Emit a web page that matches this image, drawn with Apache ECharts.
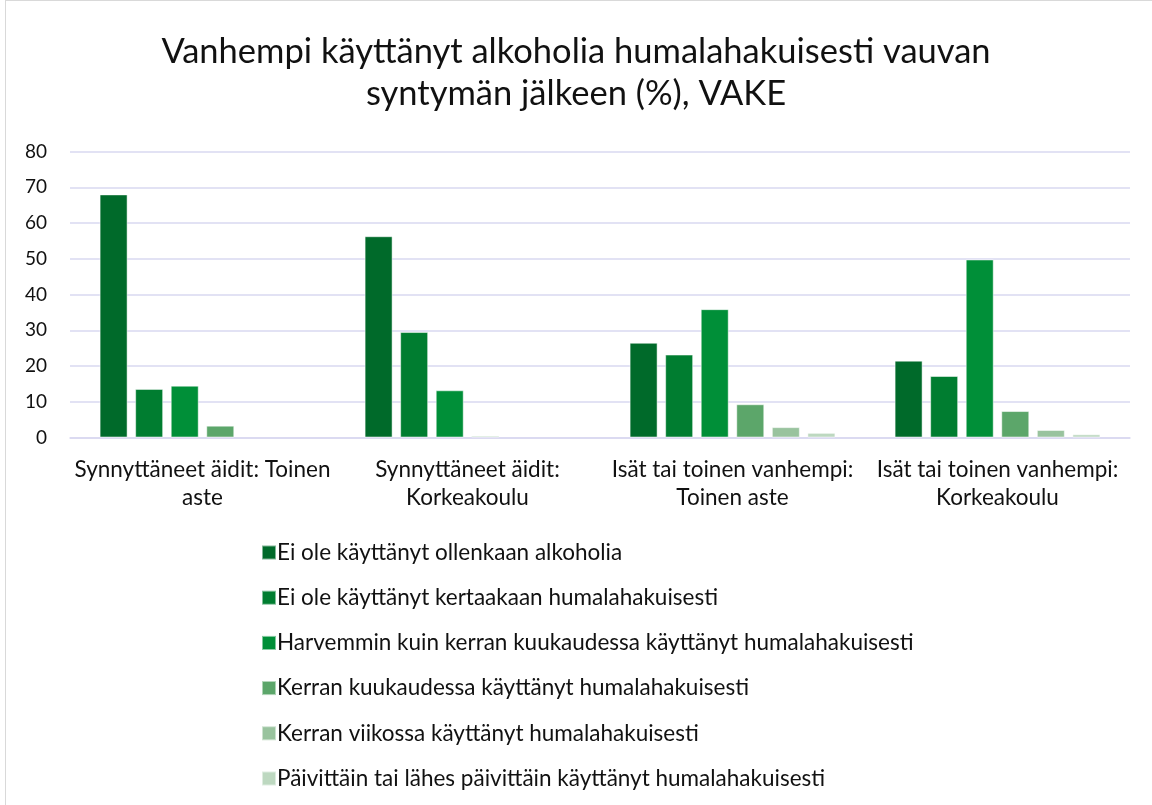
<!DOCTYPE html>
<html>
<head>
<meta charset="utf-8">
<script src="https://cdn.jsdelivr.net/npm/echarts@6/dist/echarts.min.js"></script>
<style>
  html, body { margin: 0; padding: 0; background: #fff; }
  #chart { width: 1152px; height: 805px; }
  .frame { position: absolute; left: 5px; top: 0; width: 1160px; height: 820px; border: 1px solid #d9d9d9; pointer-events: none; }
</style>
</head>
<body>
<div id="chart"></div>
<div class="frame"></div>
<script>
// kategoriat ja sarjat
const categories = [
  'Synnyttäneet äidit: Toinen\naste',
  'Synnyttäneet äidit:\nKorkeakoulu',
  'Isät tai toinen vanhempi:\nToinen aste',
  'Isät tai toinen vanhempi:\nKorkeakoulu'
];
const seriesNames = [
  'Ei ole käyttänyt ollenkaan alkoholia',
  'Ei ole käyttänyt kertaakaan humalahakuisesti',
  'Harvemmin kuin kerran kuukaudessa käyttänyt humalahakuisesti',
  'Kerran kuukaudessa käyttänyt humalahakuisesti',
  'Kerran viikossa käyttänyt humalahakuisesti',
  'Päivittäin tai lähes päivittäin käyttänyt humalahakuisesti'
];
const eiOllenkaan = [68.0, 56.3, 26.5, 21.5];
const eiKertaakaan = [13.6, 29.5, 23.2, 17.2];
const harvemmin = [14.5, 13.2, 35.9, 49.8];
const kerranKk = [3.3, 0.4, 9.3, 7.4];
const kerranVk = [null, null, 2.9, 2.1];
const paivittain = [null, null, 1.3, 0.9];
const yTicks = [0, 10, 20, 30, 40, 50, 60, 70, 80];

const colors = ['#006a2a', '#007d30', '#008f38', '#5ca66a', '#99c39e', '#bdd8c0'];
const values = [eiOllenkaan, eiKertaakaan, harvemmin, kerranKk, kerranVk, paivittain];

const chart = echarts.init(document.getElementById('chart'));
chart.setOption({
  textStyle: { fontFamily: 'Lato, "Noto Sans", sans-serif' },
  title: {
    text: 'Vanhempi käyttänyt alkoholia humalahakuisesti vauvan\nsyntymän jälkeen (%), VAKE',
    left: 'center',
    top: 31,
    padding: [0, 0, 0, 14],
    textStyle: { fontSize: 34.5, fontWeight: 'normal', color: '#111', lineHeight: 42, fontFamily: 'Lato, sans-serif' }
  },
  color: colors,
  legend: {
    orient: 'vertical',
    left: 256,
    top: 534,
    itemGap: 18.2,
    itemWidth: 14,
    itemHeight: 14,
    icon: 'rect',
    textStyle: { fontSize: 22.5, color: '#111', lineHeight: 27, padding: [0, 0, 0, -4] },
    data: seriesNames
  },
  grid: { left: 70, right: 22, top: 151.5, bottom: 367.5 },
  xAxis: {
    type: 'category',
    data: categories,
    axisLine: { lineStyle: { color: '#d9d8f0', width: 1.5 } },
    axisTick: { show: false },
    axisLabel: { fontSize: 22.5, color: '#111', lineHeight: 28, margin: 18, interval: 0 }
  },
  yAxis: {
    type: 'value',
    min: yTicks[0],
    max: yTicks[yTicks.length - 1],
    interval: 10,
    axisLine: { show: false },
    axisTick: { show: false },
    axisLabel: { fontSize: 19, color: '#111', margin: 23 },
    splitLine: { lineStyle: { color: '#d9d8f0', width: 1.5 } }
  },
  series: seriesNames.map((name, i) => ({
    name: name,
    type: 'bar',
    data: values[i],
    barWidth: 28,
    barGap: '27%',
    itemStyle: { color: colors[i], borderColor: 'rgba(255,255,255,0.5)', borderWidth: 1 }
  }))
});
</script>
</body>
</html>
